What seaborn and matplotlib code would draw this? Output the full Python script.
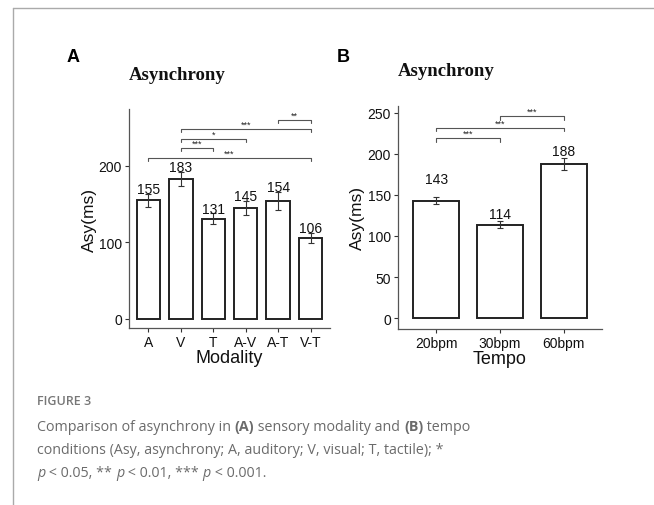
import numpy as np
import pandas as pd
import matplotlib
matplotlib.use("Agg")
import matplotlib.pyplot as plt
from matplotlib.lines import Line2D
import seaborn as sns

# >> Data
modality = ["A", "V", "T", "A-V", "A-T", "V-T"]
modality_asy = [155, 183, 131, 145, 154, 106]
modality_se = [9, 9, 7, 9, 12, 7]
# (left, right, height, label)
modality_sig = [("A", "V-T", 210, "***"), ("V", "T", 223, "***"),
                ("V", "A-V", 235, "*"), ("V", "V-T", 248, "***"),
                ("A-T", "V-T", 260, "**")]

tempo = ["20bpm", "30bpm", "60bpm"]
tempo_asy = [143, 114, 188]
tempo_se = [4, 4, 7]
tempo_sig = [("20bpm", "30bpm", 219, "***"), ("20bpm", "60bpm", 232, "***"),
             ("30bpm", "60bpm", 246, "***")]

# gap (in data units) between error bar top and value label
gap_A = [1, 1, 1, 1, 1, 1]
gap_B = [18, 4, 4]

W, H = 654, 506
sns.set_theme(style="ticks")
plt.rcParams["font.family"] = ["Liberation Sans", "DejaVu Sans"]

fig = plt.figure(figsize=(W / 100, H / 100), dpi=100)


def box(l, t, r, b):
    return [l / W, 1 - b / H, (r - l) / W, (b - t) / H]


def fx(px):
    return px / W


def fy(py):
    return 1 - py / H


def draw_panel(ax, cats, vals, errs, sig, gaps, ylim, yticks, xlabel, ylab_x):
    df = pd.DataFrame({"cond": cats, "asy": vals})
    sns.barplot(data=df, x="cond", y="asy", order=cats, ax=ax, width=0.72,
                color="white", edgecolor="#222222", linewidth=1.4)
    pos = np.arange(len(cats))
    ax.errorbar(pos, vals, yerr=errs, fmt="none", ecolor="#333333",
                elinewidth=0.8, capsize=2.5, capthick=0.8)
    for x, v, e, g in zip(pos, vals, errs, gaps):
        ax.text(x, v + e + g, str(v), ha="center", va="baseline", fontsize=10,
                color="#111111")
    idx = {c: i for i, c in enumerate(cats)}
    for a, b, h, lab in sig:
        xa, xb = idx[a], idx[b]
        ax.plot([xa, xa, xb, xb], [h - 4, h, h, h - 4],
                color="#555555", lw=0.8, clip_on=False)
        ax.text((xa + xb) / 2, h + 0.5, lab, ha="center", va="bottom",
                fontsize=6.5, color="#222222")
    ax.set_xlim(-0.6, len(cats) - 0.4)
    ax.set_ylim(*ylim)
    ax.set_yticks(yticks)
    ax.set_xlabel(xlabel, fontsize=13, labelpad=0, color="#111111")
    ax.set_ylabel("Asy(ms)", fontsize=12.5, color="#111111")
    ax.yaxis.set_label_coords(ylab_x, 0.5)
    ax.tick_params(axis="both", labelsize=10, length=3, width=0.8,
                   colors="#333333", labelcolor="#111111", pad=2)
    sns.despine(ax=ax)
    for s in ["left", "bottom"]:
        ax.spines[s].set_color("#555555")
        ax.spines[s].set_linewidth(0.9)


axA = fig.add_axes(box(129, 110, 330, 329))
draw_panel(axA, modality, modality_asy, modality_se, modality_sig, gap_A,
           (-11.8, 274.5), [0, 100, 200], "Modality", -0.16)

axB = fig.add_axes(box(398, 107, 602, 330))
draw_panel(axB, tempo, tempo_asy, tempo_se, tempo_sig, gap_B,
           (-13.4, 258.5), [0, 50, 100, 150, 200, 250], "Tempo", -0.16)

# panel titles and letters
for x, y, s in [(129, 75, "Asynchrony"), (398, 72, "Asynchrony")]:
    fig.text(fx(x), fy(y), s, ha="left", va="center", fontsize=13.5,
             fontweight="bold", family="Liberation Serif", color="#111111")
for x, y, s in [(73, 58, "A"), (343, 58, "B")]:
    fig.text(fx(x), fy(y), s, ha="center", va="center", fontsize=13,
             fontweight="bold", color="#000000")

# page frame lines
fig.add_artist(Line2D([fx(13), fx(13)], [fy(9), 0], color="#aaaaaa", lw=1))
fig.add_artist(Line2D([fx(13), 1], [fy(9), fy(9)], color="#aaaaaa", lw=1))

# caption
cap_color = "#6b6b6b"
fig.text(fx(37), fy(405), "FIGURE 3", fontsize=9, color="#777777",
         family="Open Sans", fontweight="semibold", va="baseline")

renderer = fig.canvas.get_renderer()


def rich_line(x_px, base_px, parts, size=10.3):
    x = fx(x_px)
    for txt, style in parts:
        kw = dict(fontsize=size, color=cap_color, family="Open Sans",
                  va="baseline", ha="left")
        if style == "b":
            kw["fontweight"] = "bold"
        elif style == "i":
            kw["fontstyle"] = "italic"
        t = fig.text(x, fy(base_px), txt, **kw)
        bb = t.get_window_extent(renderer=renderer)
        x += bb.width / W


rich_line(37, 431, [("Comparison of asynchrony in ", ""), ("(A)", "b"),
                    (" sensory modality and ", ""), ("(B)", "b"), (" tempo", "")])
rich_line(37, 454, [("conditions (Asy, asynchrony; A, auditory; V, visual; T, tactile); *", "")])
rich_line(37, 477, [("p", "i"), (" < 0.05, ** ", ""), ("p", "i"),
                    (" < 0.01, *** ", ""), ("p", "i"), (" < 0.001.", "")])

fig.savefig("out.png", dpi=100)
